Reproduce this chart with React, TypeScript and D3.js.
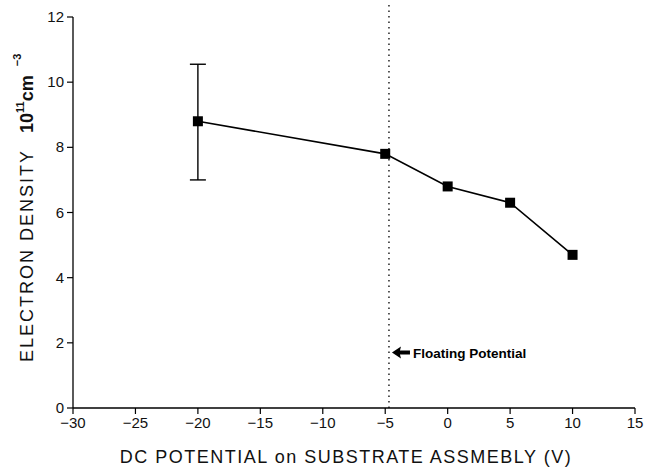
import React from 'react';
import * as d3 from 'd3';

// Measured electron density vs. substrate DC potential
const potentials = [-20, -5, 0, 5, 10];
const densities = [8.8, 7.8, 6.8, 6.3, 4.7];
const errLow = [7.0, 7.8, 6.8, 6.3, 4.7];
const errHigh = [10.55, 7.8, 6.8, 6.3, 4.7];

const xTicks = [-30, -25, -20, -15, -10, -5, 0, 5, 10, 15];
const yTicks = [0, 2, 4, 6, 8, 10, 12];
const floatingPotential = -4.7;

const W = 645;
const H = 469;
const font = '"Liberation Sans", Arial, sans-serif';

export default function App() {
  const x = d3.scaleLinear().domain([-30, 15]).range([73, 635]);
  const y = d3.scaleLinear().domain([0, 12]).range([408, 17]);

  const pts = potentials.map((p, i) => [p, densities[i]] as [number, number]);
  const line = d3
    .line<[number, number]>()
    .x((d) => x(d[0]))
    .y((d) => y(d[1]));

  const ms = 10; // marker size
  const annY = y(1.7);
  const ax = x(floatingPotential) + 3;

  return (
    <svg
      width={W}
      height={H}
      style={{position: 'absolute', left: 0, top: 0, background: '#fff'}}
    >
      {/* axes */}
      <line x1={x(-30)} x2={x(15)} y1={y(0)} y2={y(0)} stroke="#000" strokeWidth={1.3} />
      <line x1={x(-30)} x2={x(-30)} y1={y(0)} y2={y(12)} stroke="#000" strokeWidth={1.3} />

      {xTicks.map((t) => (
        <g key={'x' + t}>
          <line x1={x(t)} x2={x(t)} y1={y(0)} y2={y(0) + 6} stroke="#000" strokeWidth={1.2} />
          <text
            x={x(t)}
            y={428}
            textAnchor="middle"
            fontFamily={font}
            fontSize={15}
            fill="#111"
          >
            {t < 0 ? '\u2212' + Math.abs(t) : t}
          </text>
        </g>
      ))}

      {yTicks.map((t) => (
        <g key={'y' + t}>
          <line x1={x(-30) - 6} x2={x(-30)} y1={y(t)} y2={y(t)} stroke="#000" strokeWidth={1.2} />
          <text
            x={64}
            y={y(t) + 5}
            textAnchor="end"
            fontFamily={font}
            fontSize={15}
            fill="#111"
          >
            {t}
          </text>
        </g>
      ))}

      {/* floating potential marker */}
      <line
        x1={x(floatingPotential)}
        x2={x(floatingPotential)}
        y1={5}
        y2={y(0)}
        stroke="#000"
        strokeWidth={1.3}
        strokeDasharray="1.5 4"
      />
      <path
        d={`M${ax},${annY} L${ax + 9},${annY - 6} L${ax + 8},${annY - 2} L${ax + 18},${annY - 2} L${ax + 18},${annY + 2} L${ax + 8},${annY + 2} L${ax + 9},${annY + 6} Z`}
        fill="#000"
      />
      <text
        x={ax + 21}
        y={annY + 5}
        fontFamily={font}
        fontSize={13.5}
        fontWeight="bold"
        fill="#000"
      >
        Floating Potential
      </text>

      {/* data line */}
      <path d={line(pts) ?? ''} fill="none" stroke="#000" strokeWidth={1.6} />

      {/* error bars */}
      {potentials.map((p, i) =>
        errHigh[i] - errLow[i] > 0.2 ? (
          <g key={'e' + p} stroke="#000" strokeWidth={1.4}>
            <line x1={x(p)} x2={x(p)} y1={y(errLow[i])} y2={y(errHigh[i])} />
            <line x1={x(p) - 8} x2={x(p) + 8} y1={y(errLow[i])} y2={y(errLow[i])} />
            <line x1={x(p) - 8} x2={x(p) + 8} y1={y(errHigh[i])} y2={y(errHigh[i])} />
          </g>
        ) : null,
      )}

      {/* markers */}
      {pts.map((d) => (
        <rect
          key={'m' + d[0]}
          x={x(d[0]) - ms / 2}
          y={y(d[1]) - ms / 2}
          width={ms}
          height={ms}
          fill="#000"
        />
      ))}

      {/* axis titles */}
      <text
        x={346}
        y={463}
        textAnchor="middle"
        fontFamily={font}
        fontSize={18}
        letterSpacing={1.5}
        fill="#111"
      >
        DC POTENTIAL on SUBSTRATE ASSMEBLY (V)
      </text>
      <text
        transform="translate(33,362) rotate(-90)"
        textAnchor="start"
        fontFamily={font}
        fontSize={18}
        fill="#111"
      >
        <tspan letterSpacing={2}>ELECTRON DENSITY</tspan>
        <tspan fontWeight="bold" dx={16}>10</tspan>
        <tspan fontWeight="bold" fontSize={11} dy={-9}>11</tspan>
        <tspan fontWeight="bold" dy={9}>cm</tspan>
        <tspan fontWeight="bold" fontSize={11} dx={9} dy={-12}>{'\u2212'}3</tspan>
      </text>
    </svg>
  );
}
